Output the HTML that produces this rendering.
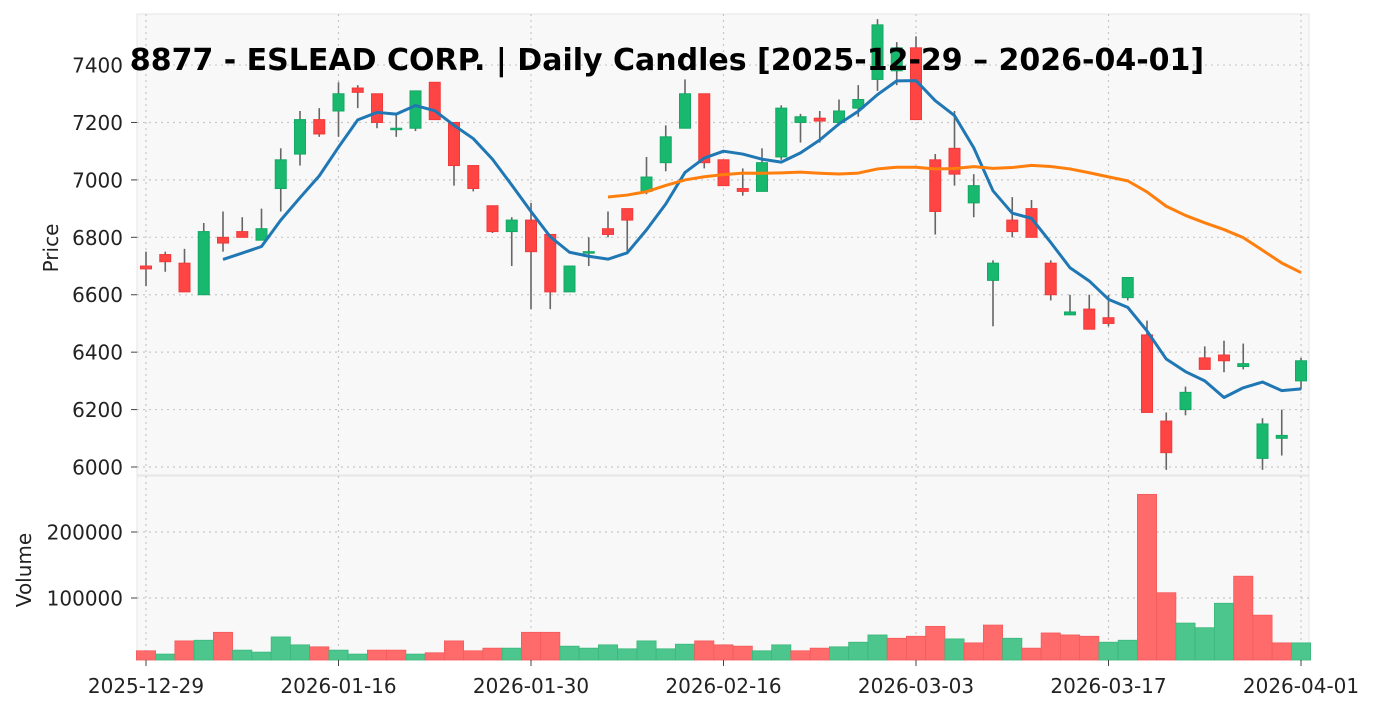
<!DOCTYPE html>
<html><head><meta charset="utf-8"><style>
html,body{margin:0;padding:0;background:#fff;}
svg{display:block;font-family:"DejaVu Sans","Liberation Sans",sans-serif;}
</style></head><body>
<svg id="chart" width="1376" height="711" viewBox="0 0 1376 711" xmlns="http://www.w3.org/2000/svg">
<rect x="0" y="0" width="1376" height="711" fill="#fff"/>
<rect x="137" y="14" width="1172" height="461" fill="#f8f8f8" stroke="#e6e6e6"/>
<rect x="137" y="476" width="1172" height="184" fill="#f8f8f8" stroke="#e6e6e6"/>
<g id="grid"></g><g id="vol"></g><g id="candles"></g><g id="ma"></g><g id="axes"></g>
<text x="58" y="248" font-size="20" text-anchor="middle" transform="rotate(-90 58 248)" fill="#222">Price</text>
<text x="31" y="570" font-size="20" text-anchor="middle" transform="rotate(-90 31 570)" fill="#222">Volume</text>
<text x="667" y="70" font-size="30" font-weight="bold" text-anchor="middle" fill="#000">8877 - ESLEAD CORP. | Daily Candles [2025-12-29 – 2026-04-01]</text>
</svg>
<script>
const opens=[6700,6740,6710,6600,6800,6820,6790,6970,7090,7210,7240,7320,7300,7180,7180,7340,7200,7050,6910,6820,6860,6810,6610,6750,6830,6900,6960,7060,7180,7300,7070,6970,6960,7080,7200,7215,7200,7250,7350,7380,7460,7070,7110,6920,6650,6860,6900,6710,6530,6550,6520,6590,6460,6160,6200,6380,6390,6350,6030,6100,6300];
const closes=[6690,6715,6610,6820,6780,6800,6830,7070,7210,7160,7300,7305,7200,7180,7310,7210,7050,6970,6820,6860,6750,6610,6700,6750,6810,6860,7010,7150,7300,7060,6980,6960,7060,7250,7220,7205,7240,7280,7540,7460,7210,6890,7020,6980,6710,6820,6800,6600,6540,6480,6500,6660,6190,6050,6260,6340,6370,6360,6150,6110,6370];
const highs=[6750,6750,6760,6850,6890,6870,6900,7110,7240,7250,7340,7330,7300,7230,7310,7340,7200,7050,6910,6870,6920,6810,6700,6800,6890,6900,7080,7190,7350,7300,7070,7040,7110,7260,7230,7240,7280,7330,7560,7480,7500,7090,7240,7020,6720,6940,6930,6720,6600,6600,6600,6660,6510,6190,6280,6420,6440,6430,6170,6200,6380];
const lows=[6630,6680,6610,6600,6750,6800,6790,6890,7050,7150,7150,7250,7180,7150,7170,7210,6980,6960,6815,6700,6550,6550,6610,6700,6800,6750,6950,7030,7180,7040,6980,6945,6960,7070,7130,7130,7200,7220,7310,7330,7210,6810,6980,6870,6490,6800,6800,6580,6530,6480,6490,6580,6190,5990,6180,6340,6330,6340,5990,6040,6270];
const volumes=[20000,15000,35000,36000,48000,21000,18000,41000,29000,26000,21000,15000,21000,21000,15000,17000,35000,20000,24000,24000,48000,48000,27000,24000,29000,23000,35000,23000,30000,35000,29000,27000,20000,29000,20000,24000,26000,33000,44000,39000,42000,57000,38000,32000,59000,39000,24000,47000,44000,42000,33000,36000,257000,108000,62000,55000,92000,133000,74000,32000,32000];
const priceTicks=[6000,6200,6400,6600,6800,7000,7200,7400];
const volTicks=[100000,200000];
const dateLabels=["2025-12-29","2026-01-16","2026-01-30","2026-02-16","2026-03-03","2026-03-17","2026-04-01"];
const dateIdx=[0,10,20,30,40,50,60];

const NS="http://www.w3.org/2000/svg";
const N=closes.length;
const xS=i=>146+i*(1301-146)/(N-1);
const yP=p=>467-(p-6000)*0.2871;
const yV=v=>Math.min(660,664-v*0.00066);
function mk(tag,attrs,parent){const e=document.createElementNS(NS,tag);for(const k in attrs)e.setAttribute(k,attrs[k]);document.getElementById(parent).appendChild(e);return e;}

priceTicks.forEach(t=>{
  const g=mk('line',{x1:137,x2:1309,y1:yP(t),y2:yP(t),stroke:'#c8c8c8','stroke-dasharray':'2,4','stroke-width':1.2},'grid');
  
  
  mk('line',{x1:131,x2:137,y1:yP(t),y2:yP(t),stroke:'#444'},'axes');
  const tx=mk('text',{x:123,y:yP(t)+7.5,'font-size':20,'text-anchor':'end',fill:'#222'},'axes');
  tx.textContent=t;
  
  
});
volTicks.forEach(t=>{
  const g=mk('line',{x1:137,x2:1309,y1:yV(t),y2:yV(t),stroke:'#c8c8c8','stroke-dasharray':'2,4','stroke-width':1.2},'grid');
  
  
  mk('line',{x1:131,x2:137,y1:yV(t),y2:yV(t),stroke:'#444'},'axes');
  const tx=mk('text',{x:123,y:yV(t)+7.5,'font-size':20,'text-anchor':'end',fill:'#222'},'axes');
  tx.textContent=t;
  
  
});
dateIdx.forEach((d,k)=>{
  const x=xS(d);
  const g=mk('line',{x1:x,x2:x,y1:14,y2:660,stroke:'#c8c8c8','stroke-dasharray':'2,4','stroke-width':1.2},'grid');
  
  
  mk('line',{x1:x,x2:x,y1:660,y2:666,stroke:'#444'},'axes');
  const tx=mk('text',{x:x,y:693,'font-size':20,'text-anchor':'middle',fill:'#222'},'axes');
  tx.textContent=dateLabels[k];
  
  
});

for(let i=0;i<N;i++){
  const up=i===0?closes[0]>=opens[0]:closes[i]>=closes[i-1];
  const x=xS(i), y=yV(volumes[i]);
  const r=mk('rect',{x:x-9.6,y:y,width:19.2,height:660-y,fill:up?'#4cc68d':'#ff6b6b',stroke:up?'#3bb87c':'#f55a5a','stroke-width':0.8},'vol');
  
  
}
for(let i=0;i<N;i++){
  const up=closes[i]>=opens[i];
  const x=xS(i);
  const w=mk('line',{x1:x,x2:x,y1:yP(highs[i]),y2:yP(lows[i]),stroke:'#666','stroke-width':1.6},'candles');
  
  
  const top=yP(Math.max(opens[i],closes[i])), bot=yP(Math.min(opens[i],closes[i]));
  const b=mk('rect',{x:x-5.5,y:top,width:11,height:Math.max(1.5,bot-top),fill:up?'#18b86f':'#ff4444',stroke:up?'#13a863':'#f03a3a','stroke-width':1},'candles');
  
  
}
function ma(n,color,name){
  let pts=[];
  for(let i=n-1;i<N;i++){let s=0;for(let j=i-n+1;j<=i;j++)s+=closes[j];pts.push(xS(i)+','+yP(s/n));}
  const p=mk('polyline',{points:pts.join(' '),fill:'none',stroke:color,'stroke-width':3,'stroke-linejoin':'round'},'ma');
  
  
}
ma(5,'#1f77b4','ma5-line');
ma(25,'#ff7f0e','ma25-line');
</script>
</body></html>
